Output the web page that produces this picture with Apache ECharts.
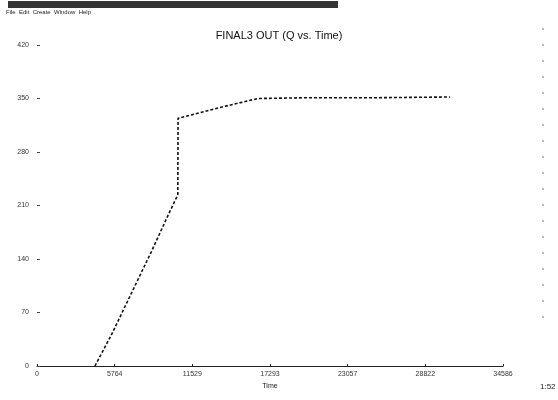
<!DOCTYPE html>
<html>
<head>
<meta charset="utf-8">
<script src="https://cdn.jsdelivr.net/npm/echarts@6/dist/echarts.min.js"></script>
<style>
html, body { margin: 0; padding: 0; background: #fff; }
#canvas { width: 558px; height: 400px; }
</style>
</head>
<body>
<div id="canvas"></div>
<script>
// values
var times = [4300, 5500, 7000, 8500, 9800, 10450, 10470, 12000, 14000, 16400, 20000, 25000, 30650];
var counts = [0, 40, 95, 150, 200, 224, 324, 331, 340, 350, 351, 351, 352];
var xTicks = [0, 5764, 11529, 17293, 23057, 28822, 34586];
var yTicks = [0, 70, 140, 210, 280, 350, 420];

var points = [];
for (var i in times) points.push([times[i], counts[i]]);

var myChart = echarts.init(document.getElementById('canvas'));
var option = {
    backgroundColor: '#fff',
    animation: false,
    title: {
        text: 'FINAL3 OUT (Q vs. Time)',
        left: 'center',
        top: 25,
        textStyle: { fontFamily: 'Liberation Sans', fontSize: 11, fontWeight: 'normal', color: '#111' }
    },
    graphic: [
        { type: 'rect', shape: { x: 8, y: 1, width: 330, height: 7 }, style: { fill: '#333' } },
        { type: 'text', left: 6, top: 9, style: { text: 'File  Edit  Create  Window  Help', fontSize: 6, fill: '#222', fontFamily: 'Liberation Sans' } },
        { type: 'text', left: 540, top: 383, style: { text: '1:52', fontSize: 8, fill: '#222', fontFamily: 'Liberation Sans' } },
        { type: 'line', shape: { x1: 543, y1: 28, x2: 543, y2: 330 }, style: { stroke: '#777', lineWidth: 1, lineDash: [2, 14] } }
    ],
    grid: { left: 37, right: 55, top: 45, bottom: 34 },
    xAxis: {
        type: 'value',
        min: 0,
        max: 34586,
        interval: 34586 / 6,
        name: 'Time',
        nameLocation: 'middle',
        nameGap: 14,
        nameTextStyle: { fontSize: 7, color: '#222', fontFamily: 'Liberation Sans' },
        axisLine: { lineStyle: { color: '#222', width: 1 } },
        axisTick: { show: true, length: -2, lineStyle: { color: '#222' } },
        axisLabel: {
            fontSize: 7, color: '#333', margin: 5, fontFamily: 'Liberation Sans',
            formatter: function (v) { return String(Math.round(v)); }
        },
        splitLine: { show: false }
    },
    yAxis: {
        type: 'value',
        min: 0,
        max: 420,
        interval: 70,
        axisLine: { show: false },
        axisTick: { show: true, length: 3, inside: true, lineStyle: { color: '#444' } },
        axisLabel: { fontSize: 7, color: '#333', margin: 8, fontFamily: 'Liberation Sans' },
        splitLine: { show: false }
    },
    series: [{
        type: 'line',
        data: points,
        symbol: 'none',
        lineStyle: { color: '#111', width: 1.6, type: [3, 2] }
    }]
};
myChart.setOption(option);
</script>
</body>
</html>
